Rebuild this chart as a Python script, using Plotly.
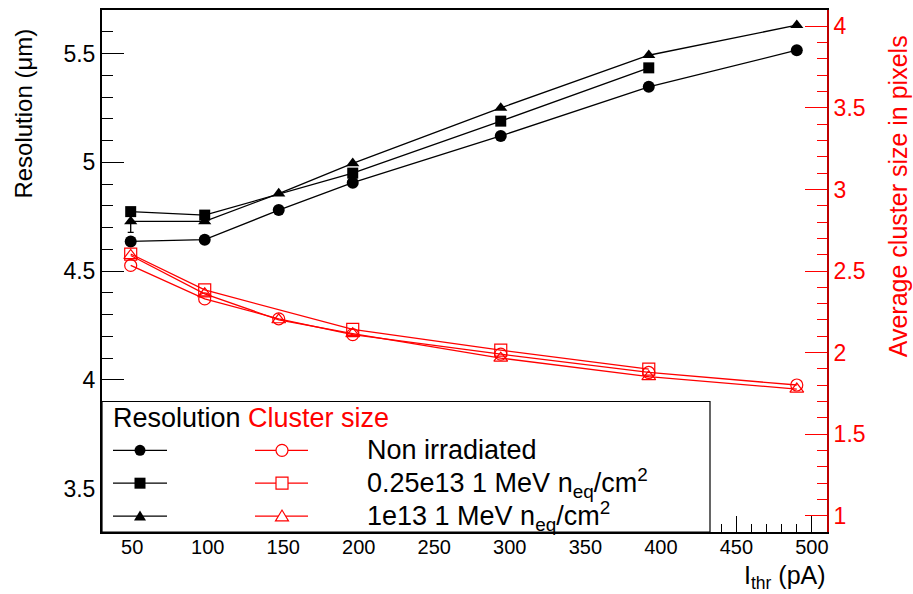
import plotly.graph_objects as go

# ---------------- data ----------------
ithr_full = [49, 98, 147, 196, 294, 392, 490]
ithr_025 = [49, 98, 196, 294, 392]

res_nonirr = [4.636, 4.644, 4.780, 4.906, 5.121, 5.347, 5.515]
res_025 = [4.773, 4.757, 4.950, 5.189, 5.434]
res_1e13 = [4.728, 4.728, 4.856, 4.995, 5.250, 5.492, 5.630]
res_1e13_err = [0.05, 0.0, 0.0, 0.0, 0.0, 0.0, 0.0]

clus_nonirr = [2.534, 2.329, 2.207, 2.110, 1.990, 1.878, 1.801]
clus_025 = [2.604, 2.384, 2.142, 2.015, 1.899]
clus_1e13 = [2.595, 2.360, 2.201, 2.116, 1.966, 1.852, 1.776]

xticks = [50, 100, 150, 200, 250, 300, 350, 400, 450, 500]
legend_labels = ["Non irradiated",
                 "0.25e13 1 MeV n<sub>eq</sub>/cm<sup>2</sup>",
                 "1e13 1 MeV n<sub>eq</sub>/cm<sup>2</sup>"]

FONT = "Liberation Sans, Arial, Helvetica, sans-serif"
RED = "#ff0000"

fig = go.Figure()

# resolution (left axis)
fig.add_trace(go.Scatter(x=ithr_full, y=res_nonirr, mode="lines+markers",
                         line=dict(color="black", width=1.3),
                         marker=dict(symbol="circle", size=12, color="black"),
                         yaxis="y"))
fig.add_trace(go.Scatter(x=ithr_025, y=res_025, mode="lines+markers",
                         line=dict(color="black", width=1.3),
                         marker=dict(symbol="square", size=11, color="black"),
                         yaxis="y"))
fig.add_trace(go.Scatter(x=ithr_full, y=res_1e13, mode="lines+markers",
                         line=dict(color="black", width=1.3),
                         marker=dict(symbol="triangle-up", size=11.5, color="black"),
                         error_y=dict(type="data", array=res_1e13_err, color="black",
                                      thickness=1.3, width=3),
                         yaxis="y"))

# cluster size (right axis)
for yv, sym in [(clus_nonirr, "circle-open"), (clus_025, "square-open"), (clus_1e13, "triangle-up-open")]:
    xs = ithr_025 if len(yv) == len(ithr_025) else ithr_full
    fig.add_trace(go.Scatter(x=xs, y=yv, mode="lines+markers",
                             line=dict(color=RED, width=1.3),
                             marker=dict(symbol=sym, size=12, color=RED,
                                         line=dict(color=RED, width=1.2)),
                             yaxis="y2"))

# ---------------- layout ----------------
L, R, T, B = 102, 86, 8, 62
W, H = 913, 594
PW, PH = W - L - R, H - T - B


def px(xp):
    return (xp - L) / PW


def py(yp):
    return (T + PH - yp) / PH


shapes = []
annotations = []

# legend box
shapes.append(dict(type="rect", xref="paper", yref="paper", x0=0, x1=px(710), y0=0, y1=py(401),
                   fillcolor="white", line=dict(color="black", width=1.2), layer="above"))

rows_y = [450, 483, 516]
black_syms = ["circle", "square", "triangle"]
red_syms = ["circle", "square", "triangle"]


def marker_shape(kind, xc, yc, r, filled, color):
    base = dict(xref="paper", yref="paper", xsizemode="pixel", ysizemode="pixel",
                xanchor=px(xc), yanchor=py(yc), layer="above",
                line=dict(color=color, width=0 if filled else 1.2),
                fillcolor=color if filled else "white")
    if kind == "circle":
        base.update(type="circle", x0=-r, x1=r, y0=-r, y1=r)
    elif kind == "square":
        base.update(type="rect", x0=-r, x1=r, y0=-r, y1=r)
    else:
        base.update(type="path", path=f"M {-r-0.5} {-r*0.8} L {r+0.5} {-r*0.8} L 0 {r} Z")
    return base


for i, yr in enumerate(rows_y):
    shapes.append(dict(type="line", xref="paper", yref="paper", x0=px(113), x1=px(167),
                       y0=py(yr), y1=py(yr), line=dict(color="black", width=1.3), layer="above"))
    shapes.append(marker_shape(black_syms[i], 140, yr, 5.5, True, "black"))
    shapes.append(dict(type="line", xref="paper", yref="paper", x0=px(255), x1=px(308),
                       y0=py(yr), y1=py(yr), line=dict(color=RED, width=1.3), layer="above"))
    shapes.append(marker_shape(red_syms[i], 282, yr, 6, False, RED))
    annotations.append(dict(text=legend_labels[i], xref="paper", yref="paper", x=px(365), y=py(yr),
                            xanchor="left", yanchor="middle", showarrow=False,
                            font=dict(family=FONT, size=27, color="black")))

annotations.append(dict(text="Resolution <span style='color:#ff0000'>Cluster size</span>",
                        xref="paper", yref="paper", x=px(111), y=py(418),
                        xanchor="left", yanchor="middle", showarrow=False,
                        font=dict(family=FONT, size=27, color="black")))

# axis titles
annotations.append(dict(text="Resolution (\u03bcm)", xref="paper", yref="paper",
                        x=px(24), y=py(112), xanchor="center", yanchor="middle",
                        textangle=-90, showarrow=False,
                        font=dict(family=FONT, size=24, color="black")))
annotations.append(dict(text="Average cluster size in pixels", xref="paper", yref="paper",
                        x=px(898), y=py(195), xanchor="center", yanchor="middle",
                        textangle=-90, showarrow=False,
                        font=dict(family=FONT, size=25, color=RED)))
annotations.append(dict(text="I<sub>thr</sub> (pA)", xref="paper", yref="paper",
                        x=px(828), y=py(577), xanchor="right", yanchor="middle",
                        showarrow=False,
                        font=dict(family=FONT, size=25, color="black")))

fig.update_layout(
    width=W, height=H,
    margin=dict(l=L, r=R, t=T, b=B, pad=0),
    paper_bgcolor="white", plot_bgcolor="white",
    showlegend=False,
    font=dict(family=FONT, color="black"),
    xaxis=dict(range=[30, 510], showgrid=False, zeroline=False,
               showline=True, linecolor="black", linewidth=1.5, mirror=True,
               ticks="inside", ticklen=16, tickwidth=1, tickcolor="black",
               tickmode="array", tickvals=xticks, ticktext=[str(v) for v in xticks],
               ticklabelstandoff=-4,
               tickfont=dict(family=FONT, size=20, color="black"),
               minor=dict(ticks="inside", ticklen=8, tickwidth=1, tickcolor="black",
                          dtick=10, tick0=0, showgrid=False)),
    yaxis=dict(range=[3.3, 5.7], showgrid=False, zeroline=False,
               showline=True, linecolor="black", linewidth=2,
               ticks="inside", ticklen=22, tickwidth=1, tickcolor="black",
               dtick=0.5, tick0=0,
               tickfont=dict(family=FONT, size=23, color="black"),
               minor=dict(ticks="inside", ticklen=11, tickwidth=1, tickcolor="black",
                          dtick=0.1, showgrid=False)),
    yaxis2=dict(range=[0.9, 4.1], overlaying="y", side="right", anchor="x",
                showgrid=False, zeroline=False,
                showline=True, linecolor="#c00000", linewidth=2,
                ticks="inside", ticklen=22, tickwidth=1, tickcolor=RED,
                dtick=0.5, tick0=0,
                tickfont=dict(family=FONT, size=23, color=RED),
                minor=dict(ticks="inside", ticklen=10, tickwidth=1, tickcolor=RED,
                           dtick=0.1, showgrid=False)),
    shapes=shapes,
    annotations=annotations,
)

fig.write_html("out.html", config={"displayModeBar": False},
               post_script="document.body.style.margin='0px';document.body.style.padding='0px';")
